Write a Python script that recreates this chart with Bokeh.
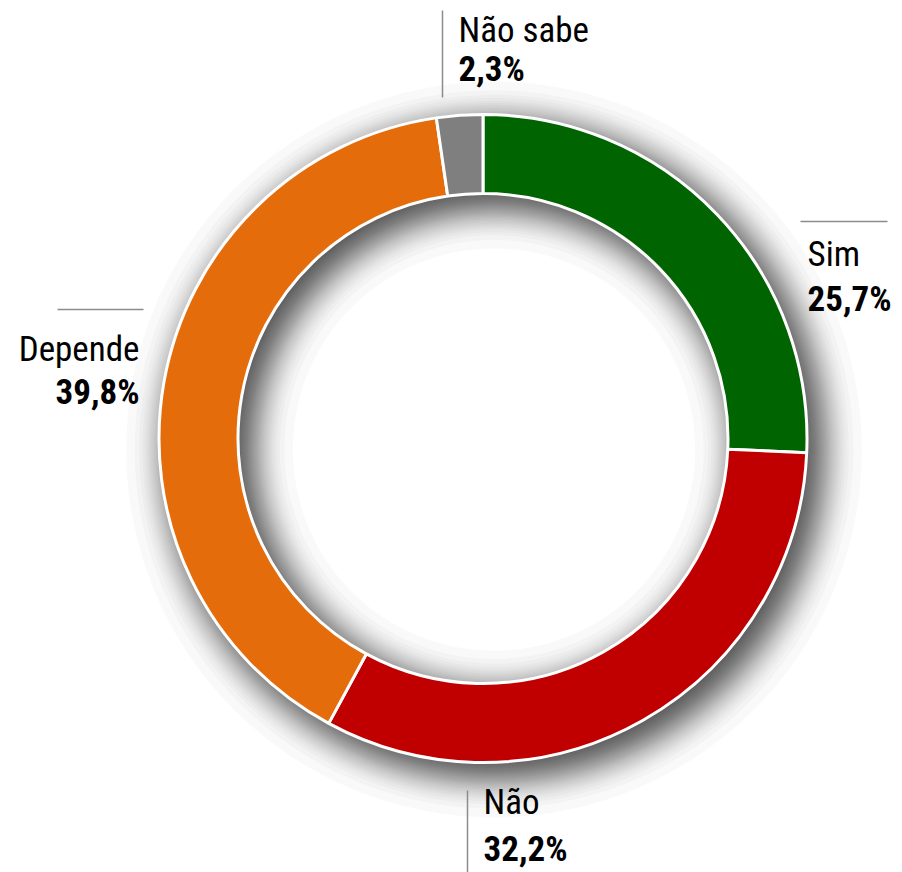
import math
from statistics import NormalDist
import numpy as np
from bokeh.plotting import figure
from bokeh.models import Range1d, ColumnDataSource
from bokeh.core.properties import value
from bokeh.embed import file_html
from bokeh.resources import INLINE

# ---- data ----
categories = ["Sim", "Não", "Depende", "Não sabe"]
shares = [25.7, 32.2, 39.8, 2.3]
value_labels = ["25,7%", "32,2%", "39,8%", "2,3%"]
colors = ["#006400", "#C00000", "#E46C0A", "#7F7F7F"]

W, H = 902, 872
FONT = "Roboto Condensed, Roboto"
FS = 35
BASE_FIX = 0.36 * FS   # renderer draws alphabetic text lower than requested

def sx(x):
    return x

def sy(y):
    return H - y

p = figure(width=W, height=H, output_backend="svg", toolbar_location=None,
           x_range=Range1d(0, W), y_range=Range1d(0, H), min_border=0)
p.axis.visible = False
p.grid.visible = False
p.outline_line_color = None
p.background_fill_color = "white"

cx, cy = sx(482.5), sy(438)
r_in, r_out = 245, 324

# ---- soft drop shadow (offset lower-right), stacked blurred layers ----
dx, dy = 11, 11
sigma = 19.0
K = 48
peak = 0.66
a_layer = 1 - (1 - peak) ** (1.0 / K)
nd = NormalDist()
for k in range(K):
    e = sigma * nd.inv_cdf((k + 0.5) / K)
    p.annulus(x=cx + dx, y=cy - dy, inner_radius=r_in - e, outer_radius=r_out + e,
              fill_color="black", fill_alpha=a_layer, line_color=None)

# ---- donut ----
frac = np.array(shares) / sum(shares)
ends = np.pi / 2 - 2 * np.pi * np.cumsum(frac)
starts = np.concatenate([[np.pi / 2], ends[:-1]])
src = ColumnDataSource(dict(start=starts, end=ends, color=colors))
p.annular_wedge(x=cx, y=cy, inner_radius=r_in, outer_radius=r_out,
                start_angle="start", end_angle="end", direction="clock",
                fill_color="color", line_color="white", line_width=3, source=src)

# ---- labels ----
lab = {
    "Não sabe": dict(x=458, y1=43, y2=82, align="left"),
    "Sim": dict(x=807, y1=267, y2=312, align="left"),
    "Depende": dict(x=139, y1=362, y2=405, align="right"),
    "Não": dict(x=483, y1=815, y2=862, align="left"),
}
for cat, val in zip(categories, value_labels):
    d = lab[cat]
    p.text(x=[sx(d["x"])], y=[sy(d["y1"] - BASE_FIX)], text=[cat], text_font=value(FONT),
           text_font_size=f"{FS}px", text_color="black", text_align=d["align"],
           text_baseline="alphabetic")
    p.text(x=[sx(d["x"])], y=[sy(d["y2"] - BASE_FIX)], text=[val], text_font=value(FONT),
           text_font_size=f"{FS}px", text_font_style="bold", text_color="black",
           text_align=d["align"], text_baseline="alphabetic")

# leader lines
lc = "#8c8c8c"
p.line(x=[sx(442), sx(442)], y=[sy(10), sy(97)], line_color=lc, line_width=1.5)
p.line(x=[sx(800), sx(887)], y=[sy(221), sy(221)], line_color=lc, line_width=1.5)
p.line(x=[sx(57), sx(143)], y=[sy(309), sy(309)], line_color=lc, line_width=1.5)
p.line(x=[sx(467), sx(467)], y=[sy(790), sy(872)], line_color=lc, line_width=1.5)

open("out.html", "w").write(file_html(p, INLINE))
